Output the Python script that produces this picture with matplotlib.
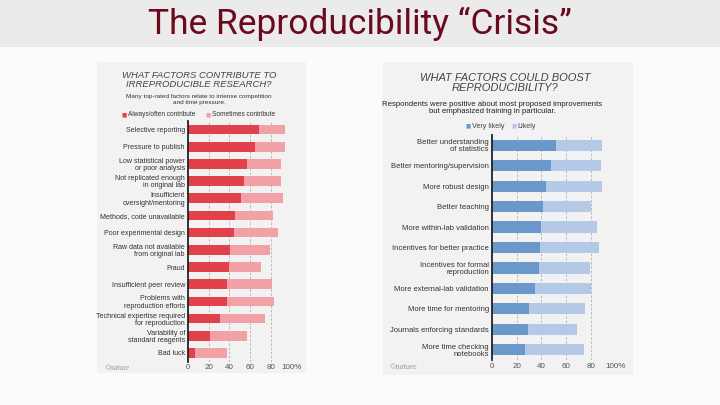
import matplotlib.pyplot as plt
from matplotlib.patches import Rectangle

# left chart: what contributes to irreproducible research (%)
left_labels = ["Selective reporting", "Pressure to publish", "Low statistical power\nor poor analysis",
               "Not replicated enough\nin original lab", "Insufficient\noversight/mentoring",
               "Methods, code unavailable", "Poor experimental design",
               "Raw data not available\nfrom original lab", "Fraud", "Insufficient peer review",
               "Problems with\nreproduction efforts", "Technical expertise required\nfor reproduction",
               "Variability of\nstandard reagents", "Bad luck"]
left_always = [68, 65, 57, 54, 51, 45, 44, 41, 40, 38, 38, 31, 21, 7]
left_total = [93, 93, 89, 89, 91, 82, 87, 79, 70, 81, 83, 74, 57, 38]

# right chart: what could boost reproducibility (%)
right_labels = ["Better understanding\nof statistics", "Better mentoring/supervision",
                "More robust design", "Better teaching", "More within-lab validation",
                "Incentives for better practice", "Incentives for formal\nreproduction",
                "More external-lab validation", "More time for mentoring",
                "Journals enforcing standards", "More time checking\nnotebooks"]
right_very = [52, 48, 44, 41, 40, 39, 38, 35, 30, 29, 27]
right_total = [89, 88, 89, 80, 85, 86, 79, 80, 75, 69, 74]

ticks = [0, 20, 40, 60, 80, 100]
tick_labels = ["0", "20", "40", "60", "80", "100%"]

W, H = 720, 405
fig = plt.figure(figsize=(7.2, 4.05), dpi=100)
fig.patch.set_facecolor("#fbfbfb")


def px(x, y, w, h):
    # pixel box (top-left origin) -> figure fraction
    return [x / W, 1 - (y + h) / H, w / W, h / H]


# title band
fig.patches.append(Rectangle((0, 1 - 47 / H), 1, 47 / H, transform=fig.transFigure,
                             facecolor="#ebebeb", edgecolor="none", zorder=-2))
fig.text(0.5, 1 - 24 / H, "The Reproducibility \u201cCrisis\u201d", ha="center", va="center",
         fontsize=25.5, color="#6b0a1f", family="Roboto")

# chart panels
fig.patches.append(Rectangle((97 / W, 1 - 373 / H), 209 / W, 311 / H, transform=fig.transFigure,
                             facecolor="#f2f2f2", edgecolor="none", zorder=-2))
fig.patches.append(Rectangle((383 / W, 1 - 375 / H), 250 / W, 313 / H, transform=fig.transFigure,
                             facecolor="#f2f2f2", edgecolor="none", zorder=-2))


def bar_panel(box, labels, dark, total, c_dark, c_light, lab_size, bar_h):
    ax = fig.add_axes(box)
    ax.set_facecolor("none")
    y = list(range(len(labels)))
    light = [t - d for t, d in zip(total, dark)]
    ax.barh(y, dark, height=bar_h, color=c_dark, zorder=2)
    ax.barh(y, light, left=dark, height=bar_h, color=c_light, zorder=2)
    ax.set_ylim(len(labels) - 0.5, -0.5)
    ax.set_xlim(0, 100)
    for t in ticks[1:]:
        ax.axvline(t, color="#b0b0b0", lw=0.6, ls=(0, (3, 2)), zorder=1)
    ax.set_yticks(y)
    ax.set_yticklabels(labels, fontsize=lab_size, color="#333333", family="Liberation Sans",
                       linespacing=1.05)
    ax.set_xticks(ticks)
    ax.set_xticklabels(tick_labels, fontsize=5.8, color="#555555", family="Liberation Sans")
    ax.tick_params(length=0, pad=2)
    for s in ["top", "right", "bottom"]:
        ax.spines[s].set_visible(False)
    ax.spines["left"].set_color("#222222")
    ax.spines["left"].set_linewidth(1.3)
    ax.spines["left"].set_zorder(3)
    return ax


bar_panel(px(187.7, 121, 104.3, 240.5), left_labels, left_always, left_total,
          "#e1414b", "#f2a2a7", 5.1, 0.56)
bar_panel(px(491.7, 135, 124.3, 225), right_labels, right_very, right_total,
          "#6a98cb", "#b3c9e6", 5.5, 0.55)

# left headings
fig.text(199 / W, 1 - 80 / H, "WHAT FACTORS CONTRIBUTE TO\nIRREPRODUCIBLE RESEARCH?",
         ha="center", va="center", fontsize=6.8, style="italic", color="#444444",
         family="Liberation Sans", linespacing=1.05)
fig.text(199 / W, 1 - 99.5 / H, "Many top-rated factors relate to intense competition\nand time pressure.",
         ha="center", va="center", fontsize=4.6, color="#333333", family="Liberation Sans",
         linespacing=1.1)
fig.text(122 / W, 1 - 115 / H, "\u25a0", color="#e1414b", fontsize=4, va="center")
fig.text(128 / W, 1 - 115 / H, "Always/often contribute", color="#333333", fontsize=4.7,
         va="center", family="Liberation Sans")
fig.text(206 / W, 1 - 115 / H, "\u25a0", color="#f2a2a7", fontsize=4, va="center")
fig.text(212 / W, 1 - 115 / H, "Sometimes contribute", color="#333333", fontsize=4.7,
         va="center", family="Liberation Sans")
fig.text(105 / W, 1 - 368 / H, "\u00a9nature", color="#999999", fontsize=5.5, va="center",
         family="Liberation Serif")

# right headings
fig.text(505 / W, 1 - 83 / H, "WHAT FACTORS COULD BOOST\nREPRODUCIBILITY?",
         ha="center", va="center", fontsize=8, style="italic", color="#444444",
         family="Liberation Sans", linespacing=1.05)
fig.text(492 / W, 1 - 108 / H, "Respondents were positive about most proposed improvements\nbut emphasized training in particular.",
         ha="center", va="center", fontsize=5.6, color="#222222", family="Liberation Sans",
         linespacing=1.15)
fig.text(466 / W, 1 - 126 / H, "\u25a0", color="#6a98cb", fontsize=4, va="center")
fig.text(472 / W, 1 - 126 / H, "Very likely", color="#444444", fontsize=5.1,
         va="center", family="Liberation Sans")
fig.text(511 / W, 1 - 126 / H, "\u25a0", color="#b3c9e6", fontsize=4, va="center")
fig.text(517 / W, 1 - 126 / H, "Likely", color="#444444", fontsize=5.1,
         va="center", family="Liberation Sans")
fig.text(390 / W, 1 - 367 / H, "\u00a9nature", color="#999999", fontsize=6, va="center",
         family="Liberation Serif")

fig.savefig("out.png", dpi=100, facecolor=fig.get_facecolor())
